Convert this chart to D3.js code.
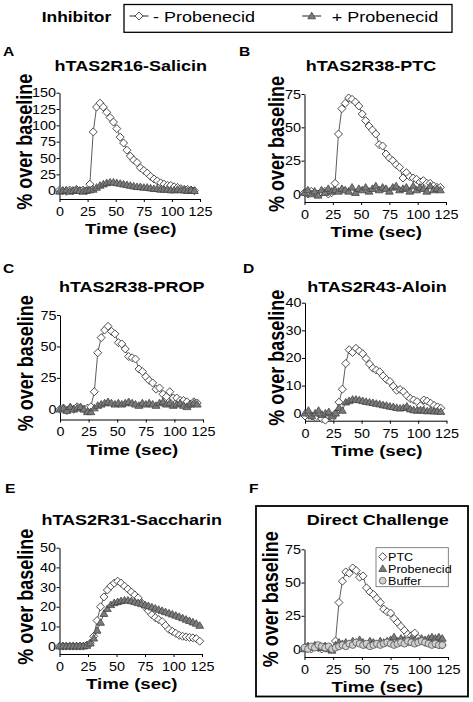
<!DOCTYPE html>
<html><head><meta charset="utf-8">
<script src="https://cdn.jsdelivr.net/npm/d3@7"></script>
<style>body{margin:0;background:#fff} svg{display:block} text{font-family:"Liberation Sans",Arial,Helvetica,sans-serif}</style>
</head><body><svg id="c" width="473" height="702"></svg>
<script>
// ---------- DATA ----------
const time120 = [0,3,6,9,12,15,18,21,24,27,30,33,36,39,42,45,48,51,54,57,60,63,66,69,72,75,78,81,84,87,90,93,96,99,102,105,108,111,114,117,120];
const time123 = [0,3,6,9,12,15,18,21,24,27,30,33,36,39,42,45,48,51,54,57,60,63,66,69,72,75,78,81,84,87,90,93,96,99,102,105,108,111,114,117,120,123];
const xTicks = [0,25,50,75,100,125];

const ticksA = [0,25,50,75,100,125,150];
const ticksB = [0,25,50,75];
const ticksC = [0,25,50,75];
const ticksD = [0,10,20,30,40];
const ticksE = [0,10,20,30,40,50];
const ticksF = [0,25,50,75];

const A_minus = [1,0,-1,1,0,2,0,1,0,10,90,128,134,128,120,112,105,95,82,73,62,53,47,43,35,31,27,22,18,15,12,10,8,8,6,5,3,2,2,1,0];
const A_plus  = [-1,0,1,-1,0,1,0,-1,0,1,2,5,8,10,12,13,13,12,11,10,9,8,7,6,6,5,5,4,3,3,2,2,2,1,1,2,1,1,0,1,0];
const B_minus = [1,0,2,1,0,1,2,0,1,8,45,64,68,72,71,69,66,60,55,51,48,45,37,36,30,27,25,22,20,12,16,13,12,11,9,10,8,8,6,5,5];
const B_plus  = [1,3,0,2,-1,3,1,4,2,3,2,4,3,2,5,1,4,3,5,2,4,6,3,5,4,2,5,6,3,4,5,2,6,3,5,4,2,6,3,4,3];
const C_minus = [0,1,-1,1,0,2,1,0,1,2,14,45,57,63,66,62,60,53,52,48,42,41,40,32,30,26,23,21,16,17,12,10,14,9,9,7,7,6,4,6,5];
const C_plus  = [0,1,-1,2,0,1,2,0,-2,-2,1,3,4,5,6,5,4,5,4,5,6,5,4,3,5,4,5,4,3,5,6,4,5,3,4,5,3,2,4,5,4];
const D_minus = [-1,-0.5,-1,-1.5,0,-2,-2.5,-1,-1.5,0,4,8.7,18,23,22,23.5,22.5,21.5,19.8,17.8,16.3,15.6,15,13.5,12.2,11.5,9.8,8.3,8.6,7.8,6.4,5.3,4.8,4.2,2.7,4.8,4.4,3.6,2.8,2.3,1.8];
const D_plus  = [0,1,-1,0,1,-0.5,0,0.5,-1,0,2,1,4,4.5,5,5,4.8,4.5,4.2,4,3.8,3.5,3.3,3,2.8,2.5,2.3,2,1.8,2,2.5,1.5,1.2,1,1.2,1,0.8,1,0.7,0.8,0.6];
const E_minus = [0,0,0,0,0,0,0,0,0.5,1.5,5,13,20,25,28.5,30.5,32,33,32,30.5,29,27.5,26,24.5,22,20,18,16,14.5,13.5,12.5,10.5,8.5,7.5,6.5,5.5,5,4.7,4.4,4.2,3.8,2.5];
const E_plus  = [0,0,0,0,0,0,0,0,0.3,1.5,4,8,12,16.5,19,21,22,22.5,23,23.3,23.3,23,22.5,22,21.5,21,20.5,19.8,19.2,18.6,18,17.4,16.8,16.2,15.6,15,14.3,13.6,12.9,12.2,11.5,10.5];
const F_ptc   = [1,2,0,2,1,0,2,1,0,6,35,51,58,57,61,59,54,55,46,43,41,38,35,30,28,27,23,20,17,14,11,10,12,8,6,5,6,5,4,3,3];
const F_prob  = [0,2,1,3,2,1,2,0,-1,3,5,4,5,4,6,5,7,5,3,6,5,4,6,5,6,7,9,6,8,7,5,8,7,6,8,7,8,9,8,9,8];
const F_buffer= [1,0,2,1,3,2,1,2,0,1,2,3,2,4,3,5,4,3,4,2,3,4,3,4,5,4,3,4,5,4,6,5,4,5,6,5,4,3,4,3,3];

const legendLabels = ["- Probenecid", "+ Probenecid"];
const fLegendLabels = ["PTC", "Probenecid", "Buffer"];

// ---------- STYLE ----------
const SX = 1.2;
const TSX = 1.15;
const svg = d3.select("#c");
const styles = {
  diamond: {fill:"#fff", stroke:"#222"},
  triangle: {fill:"#7a7a7a", stroke:"#444"},
  circle: {fill:"#d0d0d0", stroke:"#555"}
};
const shapePath = {
  diamond: "M0,-4L4,0L0,4L-4,0Z",
  triangle: "M0,-3.8L3.9,2.8L-3.9,2.8Z",
  circle: "M3.4,0A3.4,3.4 0 1,1 -3.4,0A3.4,3.4 0 1,1 3.4,0Z"
};

function txt(g, x, y, s, o={}) {
  return g.append("text")
    .attr("transform", `translate(${x},${y}) scale(${SX},1)` + (o.rotate ? " rotate(-90)" : ""))
    .attr("font-size", o.size || 12)
    .attr("font-weight", o.weight || "normal")
    .attr("text-anchor", o.anchor || "start")
    .attr("fill", "#000")
    .text(s);
}
function marker(g, shape, x, y) {
  g.append("path").attr("d", shapePath[shape]).attr("transform", `translate(${x},${y})`)
    .attr("fill", styles[shape].fill).attr("stroke", styles[shape].stroke).attr("stroke-width", 0.8);
}

const panels = [
  {letter:"A", lx:3, ly:56, title:"hTAS2R16-Salicin", tx:130.8, ty:70.7, x0:59.5, x1:200, yTop:92.7, yBot:199, yMin:-12.7, yMax:150, ticks:ticksA, ylx:32,
   series:[{t:time120, v:A_minus, shape:"diamond"}, {t:time120, v:A_plus, shape:"triangle"}]},
  {letter:"B", lx:239, ly:56, title:"hTAS2R38-PTC", tx:371, ty:70.7, x0:304.5, x1:446, yTop:94, yBot:202, yMin:-6, yMax:75, ticks:ticksB, ylx:284,
   series:[{t:time120, v:B_minus, shape:"diamond"}, {t:time120, v:B_plus, shape:"triangle"}]},
  {letter:"C", lx:3, ly:272.7, title:"hTAS2R38-PROP", tx:131.7, ty:291.7, x0:60, x1:203, yTop:315, yBot:419.5, yMin:-8.1, yMax:75, ticks:ticksC, ylx:33,
   series:[{t:time120, v:C_minus, shape:"diamond"}, {t:time120, v:C_plus, shape:"triangle"}]},
  {letter:"D", lx:243, ly:272.7, title:"hTAS2R43-Aloin", tx:377, ty:291.7, x0:305, x1:446.5, yTop:302.7, yBot:420.7, yMin:-2.7, yMax:40, ticks:ticksD, ylx:284,
   series:[{t:time120, v:D_minus, shape:"diamond"}, {t:time120, v:D_plus, shape:"triangle"}]},
  {letter:"E", lx:5, ly:493, title:"hTAS2R31-Saccharin", tx:131.7, ty:525, x0:59.5, x1:202, yTop:547.7, yBot:654, yMin:-4, yMax:50, ticks:ticksE, ylx:33,
   series:[{t:time123, v:E_minus, shape:"diamond"}, {t:time123, v:E_plus, shape:"triangle"}]},
  {letter:"F", lx:249, ly:493, title:"Direct Challenge", tx:377.7, ty:525, x0:304.5, x1:448, yTop:549.3, yBot:657, yMin:-6, yMax:75, ticks:ticksF, ylx:278,
   series:[{t:time120, v:F_ptc, shape:"diamond"}, {t:time120, v:F_prob, shape:"triangle"}, {t:time120, v:F_buffer, shape:"circle"}]}
];

// Panel F frame
svg.append("rect").attr("x",256).attr("y",506).attr("width",212).attr("height",190.5)
  .attr("fill","none").attr("stroke","#000").attr("stroke-width",1.8);

panels.forEach(p => {
  const g = svg.append("g");
  const x = d3.scaleLinear().domain([0,125]).range([p.x0, p.x1]);
  const y = d3.scaleLinear().domain([p.yMin, p.yMax]).range([p.yBot, p.yTop]);

  txt(g, p.lx, p.ly, p.letter, {size:13, weight:"bold"});
  txt(g, p.tx, p.ty, p.title, {size:15, weight:"bold", anchor:"middle"});

  const ya = g.append("g").attr("transform", `translate(${p.x0},0)`)
    .call(d3.axisLeft(y).tickValues(p.ticks).tickSize(3).tickPadding(0).tickSizeOuter(0));
  const xa = g.append("g").attr("transform", `translate(0,${p.yBot})`)
    .call(d3.axisBottom(x).tickValues(xTicks).tickSize(3).tickPadding(5).tickSizeOuter(0));
  [ya, xa].forEach(a => {
    a.attr("font-family", null).attr("font-size", null);
    a.selectAll("path,line").attr("stroke","#000").attr("stroke-width",1);
    a.selectAll("text").attr("font-size", 12.5).attr("fill","#000").attr("transform", `scale(${TSX},1)`);
  });

  txt(g, (p.x0+p.x1)/2 + 1, p.yBot + 35, "Time (sec)", {size:15.5, weight:"bold", anchor:"middle"});
  txt(g, p.ylx, (p.yTop+p.yBot)/2 - 4, "% over baseline", {size:18, weight:"bold", anchor:"middle", rotate:true});

  const line = d3.line().x(d=>x(d[0])).y(d=>y(d[1]));
  p.series.forEach(s => {
    const pts = s.t.map((t,i)=>[t, s.v[i]]);
    g.append("path").datum(pts).attr("d", line).attr("fill","none")
      .attr("stroke", "#333").attr("stroke-width", 0.8);
    pts.forEach(d => marker(g, s.shape, x(d[0]), y(d[1])));
  });
});

// Panel F inner legend
const fl = svg.append("g");
fl.append("rect").attr("x",376).attr("y",547.7).attr("width",72.3).attr("height",39)
  .attr("fill","#fff").attr("stroke","#666").attr("stroke-width",0.8);
["diamond","triangle","circle"].forEach((sh,i) => {
  const yy = 556.7 + i*12;
  marker(fl, sh, 382.7, yy);
  txt(fl, 388, yy + 3.8, fLegendLabels[i], {size:10.5});
});

// Top legend
const tl = svg.append("g");
txt(tl, 41.7, 21.5, "Inhibitor", {size:14.5, weight:"bold"});
tl.append("rect").attr("x",124).attr("y",4.5).attr("width",328).attr("height",27.8)
  .attr("fill","none").attr("stroke","#000").attr("stroke-width",1.3);
[{x:139, shape:"diamond", label:legendLabels[0], tx:153},
 {x:311.7, shape:"triangle", label:legendLabels[1], tx:331.7}].forEach(e => {
  tl.append("line").attr("x1", e.x-9.5).attr("x2", e.x+9.5).attr("y1",16).attr("y2",16)
    .attr("stroke","#222").attr("stroke-width",1);
  marker(tl, e.shape, e.x, 16);
  txt(tl, e.tx, 21.5, e.label, {size:15});
});
</script>
</body></html>
